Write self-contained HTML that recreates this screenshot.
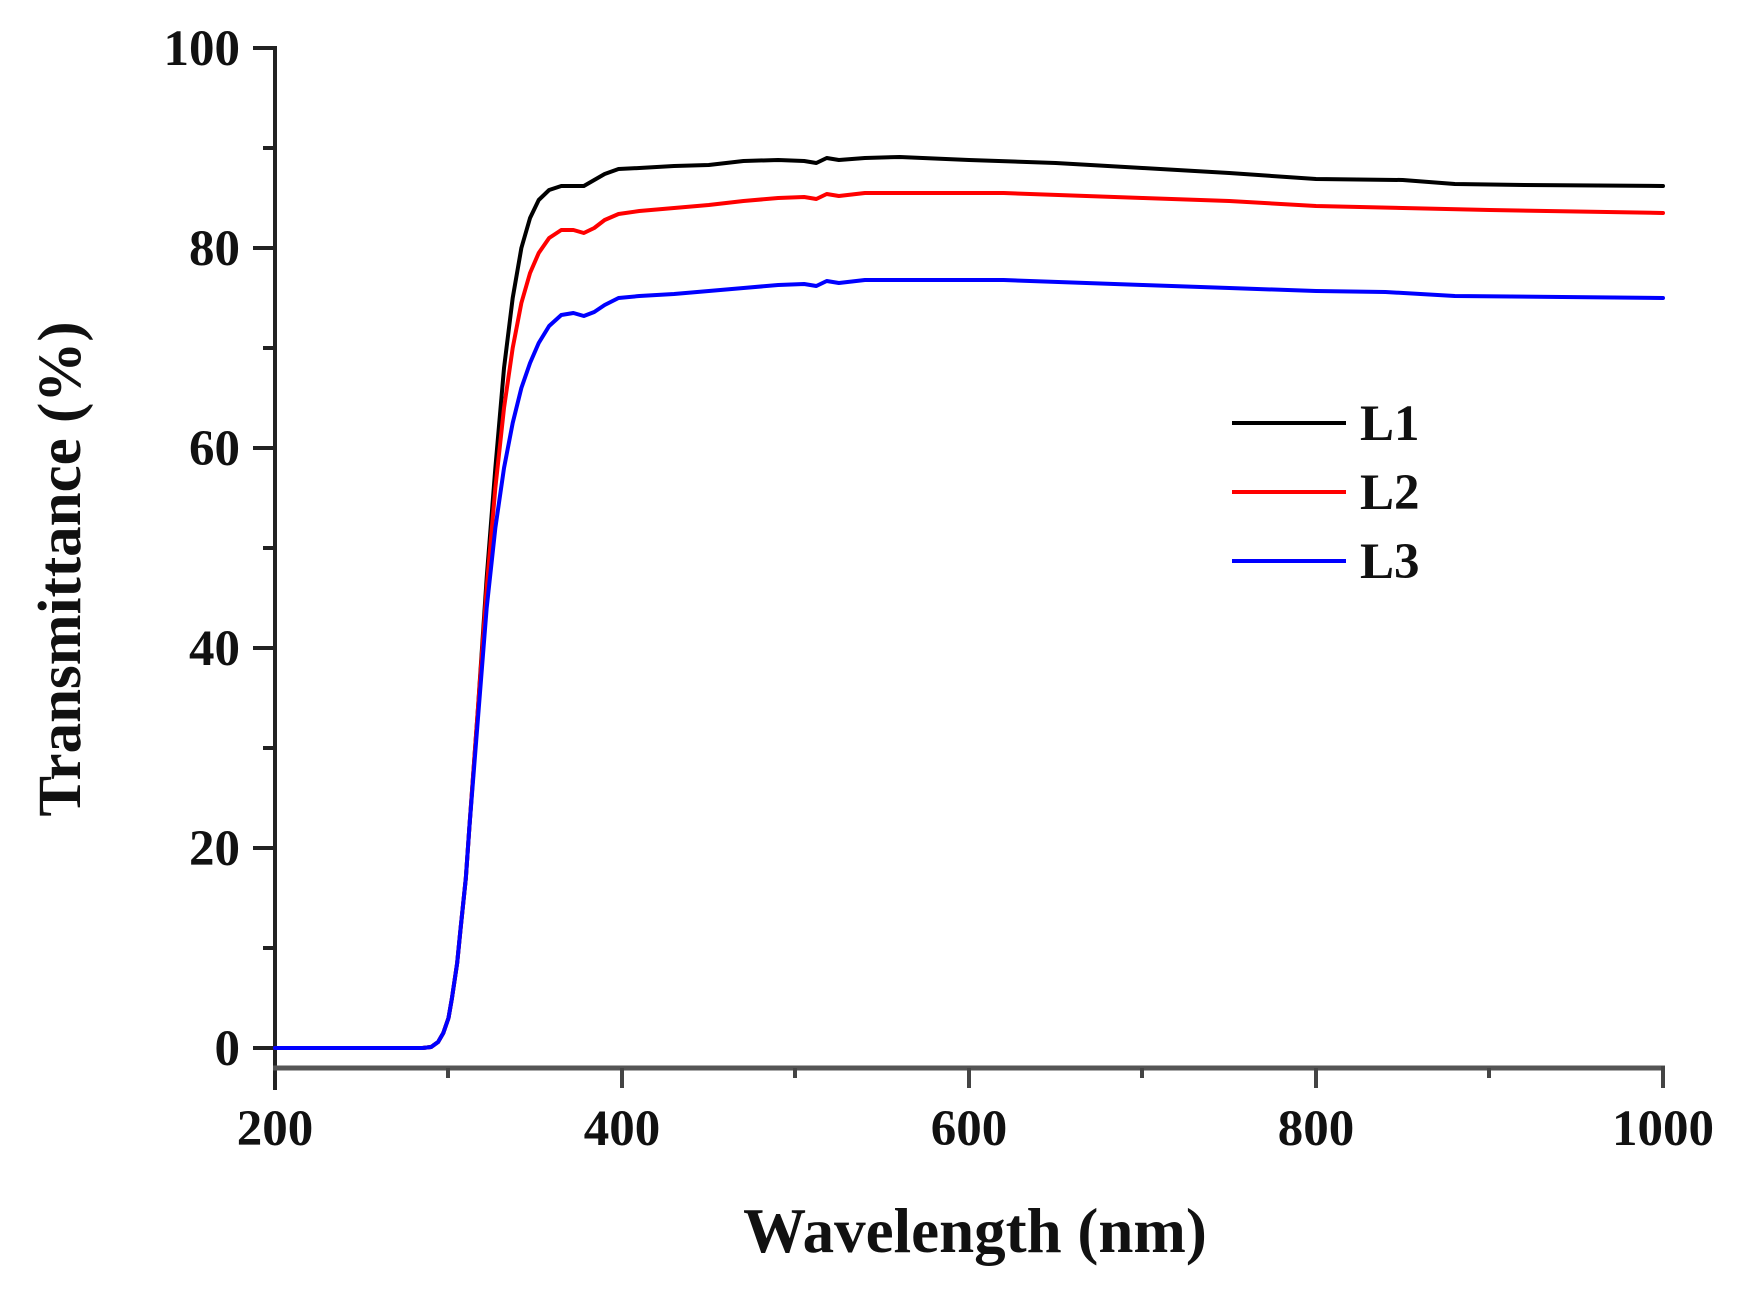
<!DOCTYPE html>
<html><head><meta charset="utf-8"><style>
html,body{margin:0;padding:0;background:#fff;}
svg{display:block;}
text{font-family:"Liberation Serif",serif;font-weight:bold;fill:#111;}
</style></head><body>
<svg width="1743" height="1293" xmlns="http://www.w3.org/2000/svg">
<rect width="1743" height="1293" fill="#fff"/>
<line x1="275" y1="46" x2="275" y2="1090" stroke="#222" stroke-width="4"/>
<line x1="273" y1="1068" x2="1665" y2="1068" stroke="#555" stroke-width="5"/>
<g stroke="#222" stroke-width="4">
<line x1="253" y1="48" x2="275" y2="48"/>
<line x1="253" y1="248" x2="275" y2="248"/>
<line x1="253" y1="448" x2="275" y2="448"/>
<line x1="253" y1="648" x2="275" y2="648"/>
<line x1="253" y1="848" x2="275" y2="848"/>
<line x1="253" y1="1048" x2="275" y2="1048"/>
<line x1="263" y1="148" x2="275" y2="148"/>
<line x1="263" y1="348" x2="275" y2="348"/>
<line x1="263" y1="548" x2="275" y2="548"/>
<line x1="263" y1="748" x2="275" y2="748"/>
<line x1="263" y1="948" x2="275" y2="948"/>
</g>
<g stroke="#444" stroke-width="4">
<line x1="622" y1="1068" x2="622" y2="1088"/>
<line x1="969" y1="1068" x2="969" y2="1088"/>
<line x1="1316" y1="1068" x2="1316" y2="1088"/>
<line x1="1663" y1="1066" x2="1663" y2="1088"/>
<line x1="448" y1="1068" x2="448" y2="1078"/>
<line x1="795" y1="1068" x2="795" y2="1078"/>
<line x1="1142" y1="1068" x2="1142" y2="1078"/>
<line x1="1489" y1="1068" x2="1489" y2="1078"/>
</g>
<g font-size="51" text-anchor="end">
<text x="240" y="65">100</text>
<text x="240" y="265">80</text>
<text x="240" y="465">60</text>
<text x="240" y="665">40</text>
<text x="240" y="865">20</text>
<text x="240" y="1065">0</text>
</g>
<g font-size="51" text-anchor="middle">
<text x="275" y="1145">200</text>
<text x="622" y="1145">400</text>
<text x="969" y="1145">600</text>
<text x="1316" y="1145">800</text>
<text x="1663" y="1145">1000</text>
</g>
<text x="975" y="1252" font-size="63" text-anchor="middle">Wavelength (nm)</text>
<text transform="translate(80,569) rotate(-90)" font-size="61" text-anchor="middle">Transmittance (%)</text>
<g transform="translate(-72,1048) scale(1.735,-10)" fill="none" stroke-linejoin="round" stroke-linecap="round">
<polyline vector-effect="non-scaling-stroke" stroke="#000" stroke-width="4" points="200,0 285,0 290,0.1 294,0.6 297,1.5 300,3 302,5 305,8.5 307,12 310,17 312,22 317,34 322,47 327,58 332,68 337,75 342,80 347,83 352,84.8 358,85.8 365,86.2 372,86.2 378,86.2 384,86.8 390,87.4 398,87.9 410,88 430,88.2 450,88.3 470,88.7 490,88.8 505,88.7 512,88.5 518,89 525,88.8 540,89 560,89.1 600,88.8 650,88.5 700,88 750,87.5 800,86.9 850,86.8 880,86.4 920,86.3 1000,86.2"/>
<polyline vector-effect="non-scaling-stroke" stroke="#f00" stroke-width="4" points="200,0 285,0 290,0.1 294,0.6 297,1.5 300,3 302,5 305,8.5 307,12 310,17 312,22 317,34 322,46 327,56 332,64 337,70 342,74.5 347,77.5 352,79.5 358,81 365,81.8 372,81.8 378,81.5 384,82 390,82.8 398,83.4 410,83.7 430,84 450,84.3 470,84.7 490,85 505,85.1 512,84.9 518,85.4 525,85.2 540,85.5 560,85.5 620,85.5 700,85 750,84.7 800,84.2 850,84 900,83.8 1000,83.5"/>
<polyline vector-effect="non-scaling-stroke" stroke="#00f" stroke-width="4" points="200,0 285,0 290,0.1 294,0.6 297,1.5 300,3 302,5 305,8.5 307,12 310,17 312,22 317,33 322,44 327,52 332,58 337,62.5 342,66 347,68.5 352,70.5 358,72.2 365,73.3 372,73.5 378,73.2 384,73.6 390,74.3 398,75 410,75.2 430,75.4 450,75.7 470,76 490,76.3 505,76.4 512,76.2 518,76.7 525,76.5 540,76.8 560,76.8 620,76.8 700,76.3 750,76 800,75.7 840,75.6 880,75.2 1000,75"/>
</g>
<g stroke-width="4">
<line x1="1232" y1="423" x2="1346" y2="423" stroke="#000"/>
<line x1="1232" y1="492" x2="1346" y2="492" stroke="#f00"/>
<line x1="1232" y1="561" x2="1346" y2="561" stroke="#00f"/>
</g>
<g font-size="51">
<text x="1360" y="440">L1</text>
<text x="1360" y="509">L2</text>
<text x="1360" y="578">L3</text>
</g>
</svg>
</body></html>
